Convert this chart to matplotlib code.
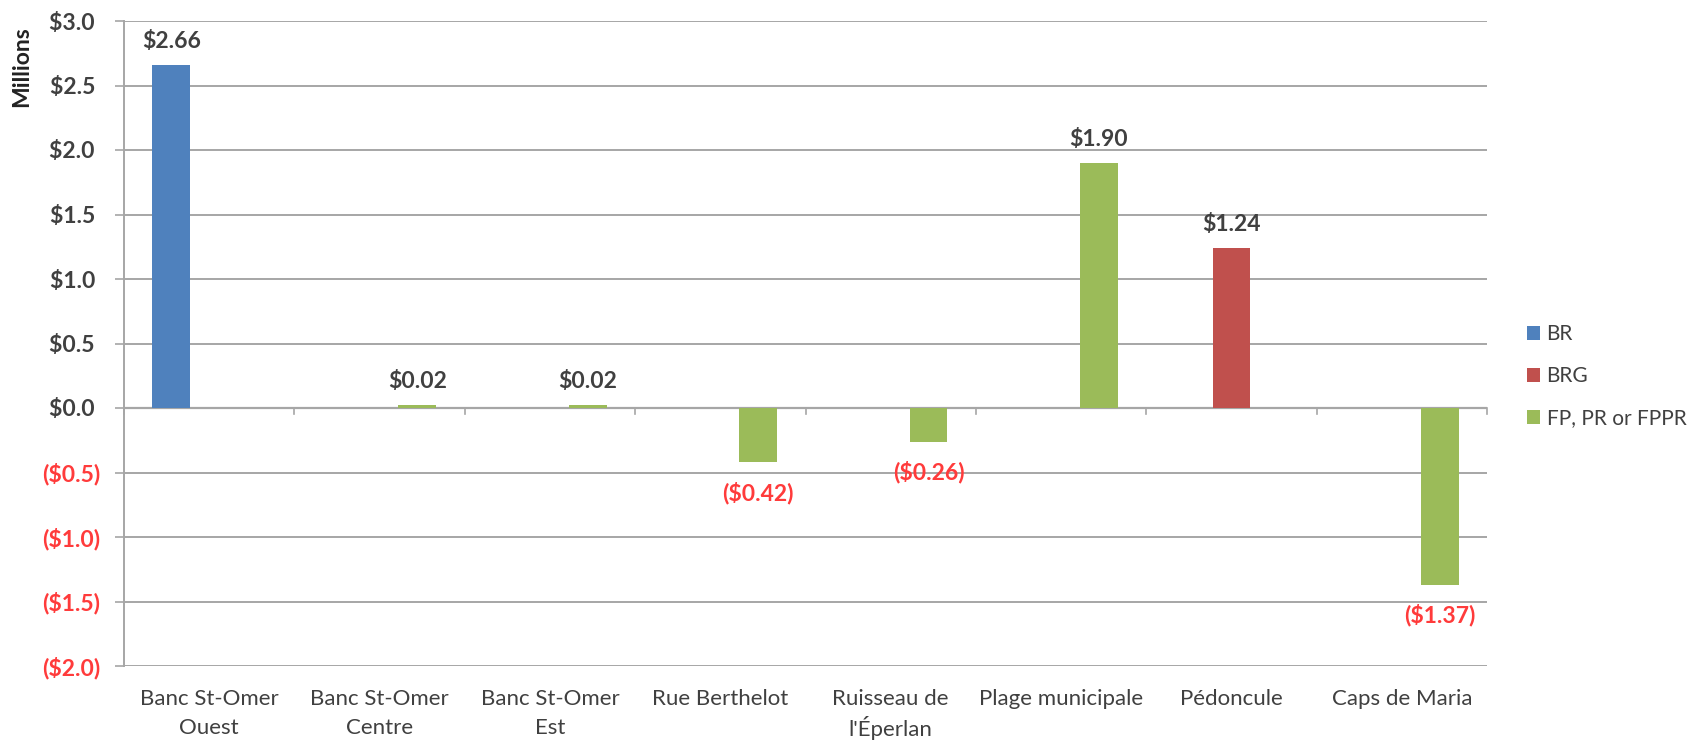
import matplotlib
matplotlib.use("Agg")
import matplotlib.pyplot as plt
import numpy as np
from matplotlib.patches import Patch

categories = ["Banc St-Omer\nOuest", "Banc St-Omer\nCentre", "Banc St-Omer\nEst",
              "Rue Berthelot", "Ruisseau de\nl'Éperlan", "Plage municipale",
              "Pédoncule", "Caps de Maria"]
series_names = ["BR", "BRG", "FP, PR or FPPR"]
br = [2.66, None, None, None, None, None, None, None]
brg = [None, None, None, None, None, None, 1.24, None]
fp = [None, 0.02, 0.02, -0.42, -0.26, 1.90, None, -1.37]
yticks = [3.0, 2.5, 2.0, 1.5, 1.0, 0.5, 0.0, -0.5, -1.0, -1.5, -2.0]

colors = ["#4F81BD", "#C0504D", "#9BBB59"]
grid_c = "#A6A6A6"
text_c = "#404040"
neg_c = "#FF3B3B"

plt.rcParams['font.family'] = ['Lato', 'DejaVu Sans']

fig = plt.figure(figsize=(17.02, 7.42), dpi=100)
ax = fig.add_axes([124/1702, 1-666/742, (1487-124)/1702, (666-21)/742])

n = len(categories)
w = 1/4.5
x = np.arange(n)
offsets = [-w, 0, w]

def fmt(v, dec, pad=False):
    s = f"${abs(v):.{dec}f}"
    if v < 0:
        return f"({s})"
    return s + (" " if pad else "")

for si, (vals, col) in enumerate(zip([br, brg, fp], colors)):
    for i, v in enumerate(vals):
        if v is None:
            continue
        xx = x[i] + offsets[si]
        ax.bar(xx, v, width=w, color=col, zorder=3, edgecolor='none')
        if v >= 0:
            ax.annotate(fmt(v, 2), (xx, v), xytext=(0, 17), textcoords='offset points',
                        ha='center', va='center', fontsize=16.5, color=text_c, fontweight='bold')
        else:
            ax.annotate(fmt(v, 2), (xx, v), xytext=(0, -22), textcoords='offset points',
                        ha='center', va='center', fontsize=16.5, color=neg_c, fontweight='bold')

ax.set_xlim(-0.5, n-0.5)
ax.set_ylim(-2.0, 3.0)
ax.set_yticks(yticks)
ax.set_yticklabels([fmt(t, 1, pad=True) for t in yticks], fontsize=16.5, fontweight='bold')
for lab, t in zip(ax.get_yticklabels(), yticks):
    lab.set_color(neg_c if t < 0 else text_c)
ax.yaxis.grid(True, color=grid_c, lw=1.4, zorder=0)
ax.tick_params(axis='y', length=6.5, width=1.2, color=grid_c, pad=10.5)
ax.set_xticks([])

for s in ['top', 'right', 'bottom']:
    ax.spines[s].set_visible(False)
ax.spines['left'].set_color(grid_c)
ax.spines['left'].set_linewidth(1.4)

# zero axis line with category boundary ticks
ax.axhline(0, color=grid_c, lw=1.6, zorder=2)
for b in np.arange(n+1) - 0.5:
    ax.plot([b, b], [0, -0.045], color=grid_c, lw=1.2, zorder=2, clip_on=False)

# category labels below plot, one text per line for even spacing
trans = ax.get_xaxis_transform()
for i, c in enumerate(categories):
    for j, line in enumerate(c.split("\n")):
        t = ax.text(x[i], 0, line, transform=trans, ha='center', va='center',
                    fontsize=16, color=text_c)
        t.set_position((x[i], -(699 - 666 + 29*j)/645))

fig.text(22/1702, 1-67/742, "Millions", rotation=90, ha='center', va='center',
         fontsize=16.5, fontweight='bold', color='#222222')

handles = [Patch(facecolor=c, edgecolor='none') for c in colors]
leg = fig.legend(handles, series_names, loc='center left',
                 bbox_to_anchor=(1508/1702, 1-376/742), frameon=False,
                 fontsize=15, handlelength=0.65, handleheight=0.65,
                 labelspacing=1.05, handletextpad=0.3, labelcolor=text_c)

fig.savefig("out.png", dpi=100)
